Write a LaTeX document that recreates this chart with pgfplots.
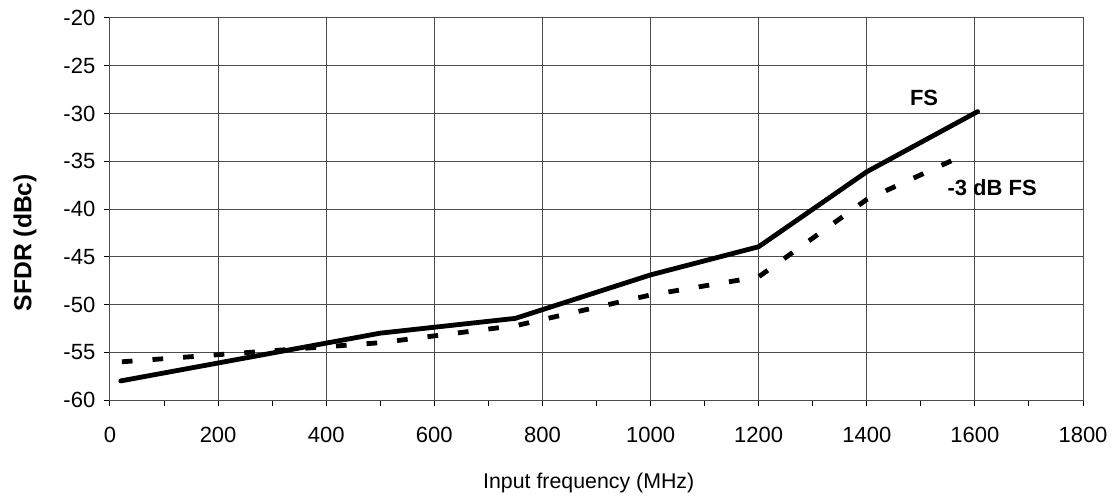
\documentclass[border=0pt]{standalone}
\usepackage{fontspec}
\setmainfont{Liberation Sans}
\usepackage{pgfplots}
\pgfplotsset{compat=1.18}
\begin{document}
\begin{tikzpicture}[x=1pt,y=1pt]
\useasboundingbox (-82.5,-75) rectangle (757.5,300);
\begin{axis}[
  at={(0,0)}, anchor=south west,
  scale only axis, width=729.75pt, height=286.5pt,
  xmin=0, xmax=1800, ymin=-60, ymax=-20,
  xtick={0,200,...,1800}, ytick={-60,-55,...,-20},
  minor x tick num=1,
  grid=major,
  major grid style={black!70, line width=0.75pt},
  axis line style={black!70, line width=0.75pt},
  tick style={black, line width=0.75pt},
  tick align=outside, major tick length=4.5pt, minor tick length=4.5pt,
  xtick pos=bottom, ytick pos=left,
  /pgf/number format/assume math mode=true,
  /pgf/number format/1000 sep={},
  ticklabel style={font=\fontsize{16.5}{18}\selectfont},
  xticklabel style={yshift=-12pt},
  yticklabel style={xshift=-3pt},
  xlabel={Input frequency (MHz)},
  ylabel={\bfseries SFDR (dBc)},
  xlabel style={font=\fontsize{16}{18}\selectfont, at={(axis description cs:0.492,-0.2173)}, anchor=center},
  ylabel style={font=\fontsize{18.5}{20}\selectfont, at={(axis description cs:-0.0874,0.412)}, anchor=center, rotate=0},
  clip=false,
]
\addplot[black, line width=3.6pt, line join=round, line cap=round] coordinates {
  (20,-58) (500,-53) (750,-51.45) (1000,-46.9) (1200,-43.95) (1400,-36.1) (1605,-29.8)
};
\addplot[black, line width=3.6pt, line join=miter, dash pattern=on 8pt off 15pt] coordinates {
  (22,-56) (500,-54) (752,-52.2) (1000,-49) (1200,-47.1) (1400,-39) (1574,-34.5)
};
\node[font=\fontsize{16.5}{18}\selectfont\bfseries] at (axis cs:1506,-28.4) {FS};
\node[font=\fontsize{16.5}{18}\selectfont\bfseries] at (axis cs:1632,-37.8) {-3 dB FS};
\end{axis}
\end{tikzpicture}
\end{document}
